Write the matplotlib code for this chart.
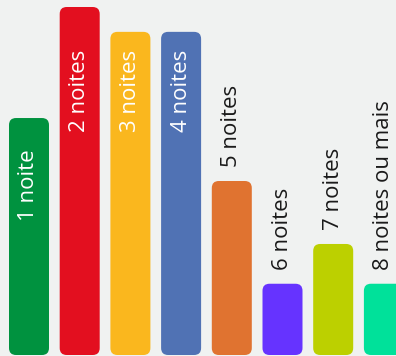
import matplotlib.pyplot as plt
from matplotlib.patches import FancyBboxPatch

labels = ['1 noite', '2 noites', '3 noites', '4 noites', '5 noites',
          '6 noites', '7 noites', '8 noites ou mais']
values = [14.3, 21.0, 19.5, 19.5, 10.5, 4.3, 6.7, 4.3]
colors = ['#00923F', '#E30F1F', '#FAB71E', '#5072B4', '#E07330',
          '#6633FF', '#BCD000', '#00E19A']

W, H = 396, 356
pitch = 50.7      # px between bar centres
x0 = 29           # px centre of first bar
bar_w = 40 / pitch
px_y = 21.0 / 348  # data units per px in y
px_x = 1 / pitch

fig = plt.figure(figsize=(W / 100, H / 100), dpi=100)
fig.patch.set_facecolor('#F0F2F1')
ax = fig.add_axes([0, 0, 1, 1])
ax.set_facecolor('#F0F2F1')
ax.set_xlim(-x0 / pitch, (W - x0) / pitch)
ax.set_ylim(-1 * px_y, (H - 1) * px_y)
ax.axis('off')

aspect = px_y / px_x
r = 7 * px_x
for i, (lab, v, c) in enumerate(zip(labels, values, colors)):
    box = FancyBboxPatch((i - bar_w / 2, 0), bar_w, v,
                         boxstyle=f'round,pad=0,rounding_size={r}',
                         mutation_aspect=aspect, facecolor=c, edgecolor='none')
    ax.add_patch(box)
    if v > 12:
        top = 305 * px_y if v > 17 else v - 31 * px_y
        ax.text(i, top, lab, rotation=90, ha='center', va='top',
                color='white', fontsize=16, family='Open Sans')
    else:
        ax.text(i, v + 14 * px_y, lab, rotation=90, ha='center', va='bottom',
                color='#1a1a1a', fontsize=16, family='Open Sans')

fig.savefig('out.png', dpi=100, facecolor=fig.get_facecolor())
